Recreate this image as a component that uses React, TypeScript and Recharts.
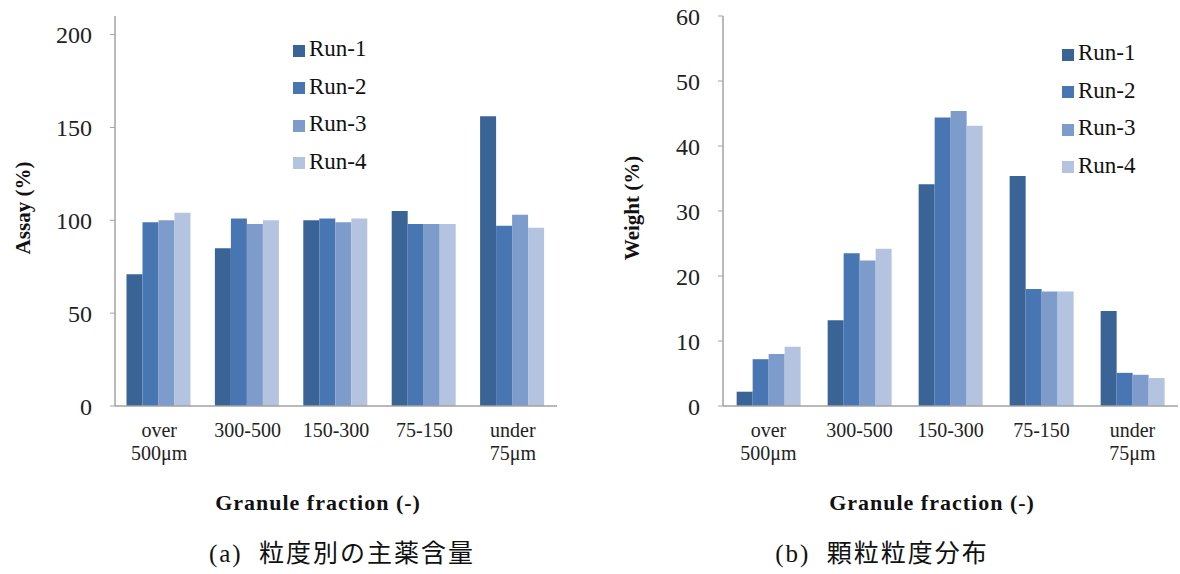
import { Bar, BarChart, Legend, XAxis, YAxis } from "recharts";

const fractions = ["over\n500μm", "300-500", "150-300", "75-150", "under\n75μm"];
const runs = ["Run-1", "Run-2", "Run-3", "Run-4"];
const runColors = ["#3b6496", "#4876b3", "#7e9ccb", "#b4c4e0"];

// (a) assay by granule fraction, %
const assayRun1 = [71, 85, 100, 105, 156];
const assayRun2 = [99, 101, 101, 98, 97];
const assayRun3 = [100, 98, 99, 98, 103];
const assayRun4 = [104, 100, 101, 98, 96];
const assayTicks = [0, 50, 100, 150, 200];

// (b) weight distribution, %
const weightRun1 = [2.2, 13.2, 34.1, 35.4, 14.6];
const weightRun2 = [7.2, 23.5, 44.4, 18.0, 5.1];
const weightRun3 = [8.0, 22.4, 45.4, 17.6, 4.8];
const weightRun4 = [9.1, 24.2, 43.1, 17.6, 4.3];
const weightTicks = [0, 10, 20, 30, 40, 50, 60];

// category boundaries, for the Excel-style tick marks between groups
const boundaryTicks = [1, 2, 3, 4];

const serif = "Liberation Serif, DejaVu Serif, serif";
const cjk = "Liberation Serif, Noto Sans CJK JP, serif";
const frame = "#a2a2a2";

const toRows = (series: number[][]) =>
  fractions.map((fraction, i) => {
    const row: Record<string, string | number> = { fraction };
    runs.forEach((r, k) => (row[r] = series[k][i]));
    return row;
  });

const assayRows = toRows([assayRun1, assayRun2, assayRun3, assayRun4]);
const weightRows = toRows([weightRun1, weightRun2, weightRun3, weightRun4]);

function FractionTick({ x, y, payload }: any) {
  const lines = String(payload.value).split("\n");
  return (
    <text x={x} y={y} textAnchor="middle" style={{ fontFamily: serif }} fontSize={20} fill="#222">
      {lines.map((l, i) => (
        <tspan key={i} x={x} dy={i === 0 ? 31 : 23}>
          {l}
        </tspan>
      ))}
    </text>
  );
}

type PanelProps = {
  left: number;
  width: number;
  plotLeft: number;
  plotRight: number;
  rows: Record<string, string | number>[];
  max: number;
  ticks: number[];
  gap: string;
  legendLeft: number;
  legendTop: number;
};

function Panel(p: PanelProps) {
  return (
    <div style={{ position: "absolute", left: p.left, top: 0 }}>
      <BarChart
        width={p.width}
        height={574}
        data={p.rows}
        margin={{ top: 16, right: p.width - p.plotRight, bottom: 108, left: 0 }}
        barCategoryGap={p.gap}
        barGap={0}
        style={{ fontFamily: serif }}
      >
        <XAxis
          xAxisId="bounds"
          type="number"
          domain={[0, 5]}
          ticks={boundaryTicks}
          allowDataOverflow
          height={0}
          axisLine={false}
          tick={false}
          tickSize={-5}
          tickLine={{ stroke: frame }}
        />
        <XAxis
          dataKey="fraction"
          interval={0}
          height={60}
          tickLine={false}
          tickSize={0}
          tickMargin={0}
          axisLine={{ stroke: frame, strokeWidth: 1.5 }}
          tick={<FractionTick />}
        />
        <XAxis
          xAxisId="top"
          orientation="top"
          dataKey="fraction"
          height={0}
          tick={false}
          tickLine={false}
          axisLine={{ stroke: frame, strokeWidth: 1.5 }}
        />
        <YAxis
          width={p.plotLeft}
          domain={[0, p.max]}
          ticks={p.ticks}
          allowDataOverflow
          tickSize={5}
          tickMargin={18}
          tickLine={{ stroke: frame }}
          axisLine={{ stroke: frame, strokeWidth: 1.5 }}
          tick={{ fontFamily: serif, fontSize: 24, fill: "#222" }}
        />
        <YAxis
          yAxisId="frame"
          orientation="right"
          width={0}
          domain={[0, 1]}
          tick={false}
          tickLine={false}
          axisLine={{ stroke: frame, strokeWidth: 1.5 }}
        />
        <Legend
          layout="vertical"
          align="center"
          verticalAlign="middle"
          iconType="square"
          iconSize={12}
          wrapperStyle={{
            left: p.legendLeft,
            top: p.legendTop,
            width: "auto",
            fontFamily: serif,
            fontSize: 23,
            lineHeight: "37.5px",
          }}
          formatter={(v) => <span style={{ color: "#111", fontFamily: serif }}>{v}</span>}
        />
        {runs.map((r, k) => (
          <Bar key={r} dataKey={r} fill={runColors[k]} isAnimationActive={false} />
        ))}
      </BarChart>
    </div>
  );
}

const abs = (x: number, y: number, extra: React.CSSProperties = {}): React.CSSProperties => ({
  position: "absolute",
  left: x,
  top: y,
  transform: "translate(-50%, -50%)",
  whiteSpace: "nowrap",
  lineHeight: 1,
  color: "#111",
  ...extra,
});

const yTitle = { fontFamily: serif, fontWeight: 700, fontSize: 21 };
const xTitle = { fontFamily: serif, fontWeight: 700, fontSize: 22, letterSpacing: 1 };
const caption = { fontFamily: cjk, fontSize: 25, letterSpacing: 2 };

export default function App() {
  return (
    <div
      style={{
        position: "absolute",
        left: 0,
        top: 0,
        width: 1180,
        height: 574,
        background: "#fff",
        overflow: "hidden",
      }}
    >
      <Panel
        left={0}
        width={580}
        plotLeft={115}
        plotRight={557}
        rows={assayRows}
        max={210}
        ticks={assayTicks}
        gap="13%"
        legendLeft={293}
        legendTop={30}
      />
      <Panel
        left={590}
        width={590}
        plotLeft={133}
        plotRight={588}
        rows={weightRows}
        max={60}
        ticks={weightTicks}
        gap="15%"
        legendLeft={472}
        legendTop={34}
      />
      <div style={abs(23, 208, { ...yTitle, transform: "translate(-50%, -50%) rotate(-90deg)" })}>
        Assay (%)
      </div>
      <div style={abs(632, 208, { ...yTitle, transform: "translate(-50%, -50%) rotate(-90deg)" })}>
        Weight (%)
      </div>
      <div style={abs(318, 503, xTitle)}>Granule fraction (-)</div>
      <div style={abs(932, 503, xTitle)}>Granule fraction (-)</div>
      <div style={abs(342, 553, caption)}>(a)&nbsp; 粒度別の主薬含量</div>
      <div style={abs(882, 553, caption)}>(b)&nbsp; 顆粒粒度分布</div>
    </div>
  );
}
